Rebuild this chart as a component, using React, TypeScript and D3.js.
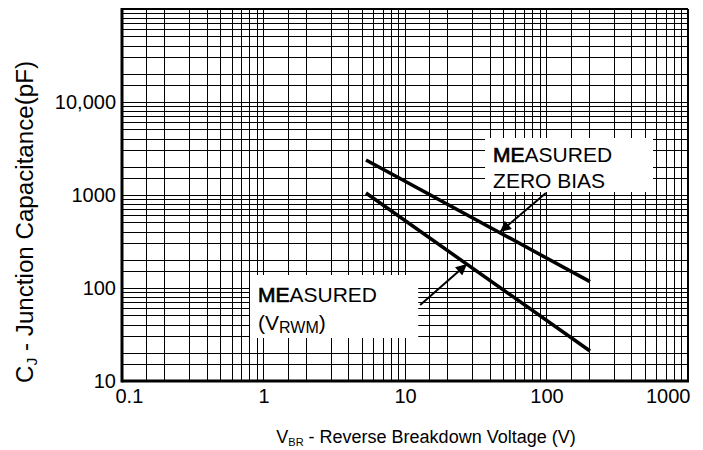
import React, { useRef, useEffect } from 'react';
import { select, scaleLog, line, axisBottom, axisLeft } from 'd3';

// axes
const xTicks = [0.1, 1, 10, 100, 1000];
const xTickLabels = ['0.1', '1', '10', '100', '1000'];
const yTicks = [10, 100, 1000, 10000];
const yTickLabels = ['10', '100', '1000', '10,000'];
const gridSteps = [1, 1.5, 2, 3, 4, 5, 6, 7, 8, 9];
const xDecades = [0.1, 1, 10, 100];
const yDecades = [10, 100, 1000, 10000];

// measured curves (V, pF)
const voltage = [5.3, 203];
const zeroBias = [2380, 117];
const vrwm = [1050, 21];

// callout boxes, in data units: [xMin, xMax, yMin, yMax]
const zeroBiasBox = [36.8, 566, 1077, 4100];
const vrwmBox = [0.803, 12.4, 29, 138];
// arrows: [fromX, fromY, toX, toY]
const zeroBiasArrow = [99, 1050, 46.9, 400];
const vrwmArrow = [12.8, 65.6, 27.4, 181];

const W = 703;
const H = 450;
const FONT = '"Liberation Sans", Arial, sans-serif';

const App = () => {
  const svgRef = useRef(null);

  useEffect(() => {
    const svg = select(svgRef.current);
    svg.selectAll('*').remove();

    const x = scaleLog().domain([0.1, 1000]).range([122, 688]);
    const y = scaleLog().domain([10, 100000]).range([381, 9]);

    svg
      .append('defs')
      .append('marker')
      .attr('id', 'arrowhead')
      .attr('viewBox', '0 0 10 10')
      .attr('refX', 10)
      .attr('refY', 5)
      .attr('markerUnits', 'userSpaceOnUse')
      .attr('markerWidth', 15)
      .attr('markerHeight', 11)
      .attr('orient', 'auto')
      .append('path')
      .attr('d', 'M0,0 L10,5 L0,10 Z')
      .attr('fill', '#000');

    const gridX = xDecades.flatMap((d) => gridSteps.map((s) => s * d)).concat([1000]);
    const gridY = yDecades.flatMap((d) => gridSteps.map((s) => s * d)).concat([100000]);

    const grid = svg.append('g').attr('stroke', '#000').attr('stroke-width', 1).attr('shape-rendering', 'crispEdges');
    grid
      .selectAll('.vx')
      .data(gridX)
      .join('line')
      .attr('x1', (d) => x(d))
      .attr('x2', (d) => x(d))
      .attr('y1', y.range()[0])
      .attr('y2', y.range()[1]);
    grid
      .selectAll('.hy')
      .data(gridY)
      .join('line')
      .attr('y1', (d) => y(d))
      .attr('y2', (d) => y(d))
      .attr('x1', x.range()[0])
      .attr('x2', x.range()[1]);

    // frame
    const [x0, x1] = x.range();
    const [y0, y1] = y.range();
    svg.append('line').attr('x1', x0).attr('x2', x1).attr('y1', y1).attr('y2', y1).attr('stroke', '#000').attr('stroke-width', 2);
    svg.append('line').attr('x1', x1).attr('x2', x1).attr('y1', y0).attr('y2', y1).attr('stroke', '#000').attr('stroke-width', 2);
    svg.append('line').attr('x1', x0).attr('x2', x1 + 1).attr('y1', y0).attr('y2', y0).attr('stroke', '#000').attr('stroke-width', 3);
    svg.append('line').attr('x1', x0).attr('x2', x0).attr('y1', y0 + 1.5).attr('y2', y1 - 1).attr('stroke', '#000').attr('stroke-width', 3);

    // white callout boxes
    [zeroBiasBox, vrwmBox].forEach((b) => {
      svg
        .append('rect')
        .attr('x', x(b[0]))
        .attr('y', y(b[3]))
        .attr('width', x(b[1]) - x(b[0]))
        .attr('height', y(b[2]) - y(b[3]))
        .attr('fill', '#fff');
    });

    // curves
    const curve = line<number>()
      .x((d, i) => x(voltage[i]))
      .y((d) => y(d));
    [zeroBias, vrwm].forEach((series) => {
      svg.append('path').attr('d', curve(series)).attr('fill', 'none').attr('stroke', '#000').attr('stroke-width', 3.5);
    });

    // arrows
    [zeroBiasArrow, vrwmArrow].forEach((a) => {
      svg
        .append('line')
        .attr('x1', x(a[0]))
        .attr('y1', y(a[1]))
        .attr('x2', x(a[2]))
        .attr('y2', y(a[3]))
        .attr('stroke', '#000')
        .attr('stroke-width', 2)
        .attr('marker-end', 'url(#arrowhead)');
    });

    // callout texts
    const label = (b: number[], dy: number) =>
      svg
        .append('text')
        .attr('x', x(b[0]) + 8)
        .attr('y', y(b[3]) + dy)
        .attr('font-family', FONT)
        .attr('font-size', 21)
        .attr('fill', '#000');

    const measured = (t) => {
      t.append('tspan').attr('stroke', '#000').attr('stroke-width', 0.7).text('ME');
      t.append('tspan').text('ASURED');
    };
    measured(label(zeroBiasBox, 24));
    label(zeroBiasBox, 50).text('ZERO BIAS');

    measured(label(vrwmBox, 27));
    const t4 = label(vrwmBox, 55);
    t4.append('tspan').text('(V');
    t4.append('tspan').attr('font-size', 16).attr('dy', 3).text('RWM');
    t4.append('tspan').attr('dy', -3).text(')');

    // axes
    const xAxis = axisBottom(x)
      .tickValues(xTicks)
      .tickSize(0)
      .tickPadding(8)
      .tickFormat((d, i) => xTickLabels[i]);
    const gx = svg.append('g').attr('transform', `translate(0,${y0})`).call(xAxis);
    gx.select('.domain').remove();
    gx.selectAll('text').attr('font-size', 20).attr('font-family', FONT).attr('fill', '#000');
    gx.selectAll('text').filter((d, i) => i === 0).attr('text-anchor', 'start').attr('dx', -7);
    gx.selectAll('text').filter((d, i) => i === xTicks.length - 1).attr('text-anchor', 'end').attr('dx', 2);

    const yAxis = axisLeft(y)
      .tickValues(yTicks)
      .tickSize(0)
      .tickPadding(6)
      .tickFormat((d, i) => yTickLabels[i]);
    const gy = svg.append('g').attr('transform', `translate(${x0},0)`).call(yAxis);
    gy.select('.domain').remove();
    gy.selectAll('text').attr('font-size', 20).attr('font-family', FONT).attr('fill', '#000');

    // axis titles
    const xt = svg
      .append('text')
      .attr('x', 426)
      .attr('y', 443)
      .attr('text-anchor', 'middle')
      .attr('font-family', FONT)
      .attr('font-size', 18)
      .attr('fill', '#000');
    xt.append('tspan').text('V');
    xt.append('tspan').attr('font-size', 11).attr('dy', 3).text('BR');
    xt.append('tspan').attr('dy', -3).text(' - Reverse Breakdown Voltage (V)');

    const yt = svg
      .append('text')
      .attr('transform', 'rotate(-90)')
      .attr('x', -222)
      .attr('y', 33)
      .attr('text-anchor', 'middle')
      .attr('font-family', FONT)
      .attr('font-size', 23)
      .attr('textLength', 322)
      .attr('lengthAdjust', 'spacingAndGlyphs')
      .attr('fill', '#000');
    yt.append('tspan').text('C');
    yt.append('tspan').attr('font-size', 15).attr('dy', 4).text('J');
    yt.append('tspan').attr('dy', -4).text(' - Junction Capacitance(pF)');
  }, []);

  return (
    <svg
      ref={svgRef}
      width={W}
      height={H}
      style={{ position: 'absolute', left: 0, top: 0, background: '#fff' }}
    />
  );
};

export default App;
